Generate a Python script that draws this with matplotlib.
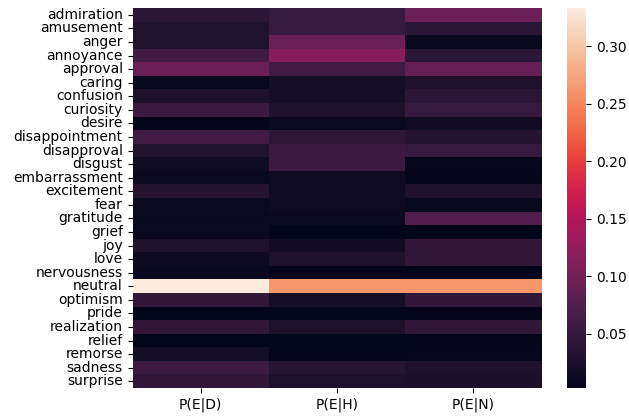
import matplotlib
matplotlib.use("Agg")
import matplotlib.pyplot as plt
import seaborn as sns
import pandas as pd

emotions = [
    "admiration", "amusement", "anger", "annoyance", "approval", "caring",
    "confusion", "curiosity", "desire", "disappointment", "disapproval",
    "disgust", "embarrassment", "excitement", "fear", "gratitude", "grief",
    "joy", "love", "nervousness", "neutral", "optimism", "pride",
    "realization", "relief", "remorse", "sadness", "surprise",
]

# P(E|D), P(E|H), P(E|N) per emotion
p_d = [0.040, 0.030, 0.030, 0.060, 0.092, 0.010, 0.028, 0.055, 0.006, 0.060,
       0.030, 0.015, 0.012, 0.035, 0.013, 0.010, 0.011, 0.028, 0.014, 0.012,
       0.333, 0.046, 0.004, 0.046, 0.003, 0.020, 0.055, 0.046]
p_h = [0.050, 0.050, 0.094, 0.115, 0.060, 0.020, 0.020, 0.028, 0.012, 0.042,
       0.055, 0.055, 0.015, 0.015, 0.015, 0.012, 0.003, 0.018, 0.028, 0.006,
       0.262, 0.022, 0.004, 0.028, 0.003, 0.006, 0.037, 0.028]
p_n = [0.094, 0.040, 0.010, 0.040, 0.090, 0.028, 0.040, 0.050, 0.018, 0.035,
       0.050, 0.008, 0.006, 0.028, 0.010, 0.072, 0.004, 0.045, 0.045, 0.004,
       0.262, 0.046, 0.005, 0.046, 0.006, 0.007, 0.028, 0.026]

df = pd.DataFrame({"P(E|D)": p_d, "P(E|H)": p_h, "P(E|N)": p_n}, index=emotions)

fig = plt.figure(figsize=(6.29, 4.17), dpi=100)
ax = fig.add_axes([0.2107, 0.0695, 0.6503, 0.9113])
cax = fig.add_axes([0.9014, 0.0695, 0.0302, 0.9113])

sns.heatmap(df, ax=ax, cbar_ax=cax)
ax.set_yticks([i + 0.5 for i in range(len(emotions))])
ax.set_yticklabels(emotions, rotation=0)

fig.savefig("out.png", dpi=100)
